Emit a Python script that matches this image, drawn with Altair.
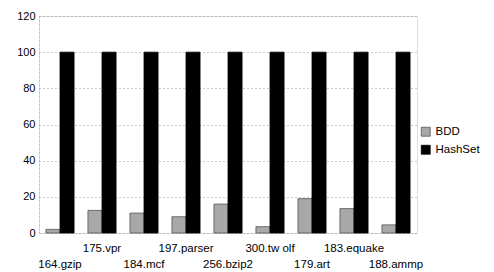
import altair as alt
import pandas as pd

benchmarks = ["164.gzip", "175.vpr", "184.mcf", "197.parser", "256.bzip2",
              "300.tw olf", "179.art", "183.equake", "188.ammp"]
bdd = [2, 12.5, 11, 9, 16, 3.5, 19, 13.5, 4.5]
hashset = [100, 100, 100, 100, 100, 100, 100, 100, 100]
series = ["BDD", "HashSet"]

rows = []
for b, v1, v2 in zip(benchmarks, bdd, hashset):
    rows.append({"bench": b, "series": "BDD", "value": v1})
    rows.append({"bench": b, "series": "HashSet", "value": v2})
df = pd.DataFrame(rows)
labels = pd.DataFrame({"bench": benchmarks, "row": [i % 2 for i in range(len(benchmarks))]})

W, H = 378, 217
FONT = "Liberation Sans"

xscale = alt.Scale(domain=benchmarks, paddingInner=0.33, paddingOuter=0.165)

bars = alt.Chart(df).mark_bar(strokeWidth=0.8).encode(
    x=alt.X("bench:N", sort=benchmarks, scale=xscale, axis=None),
    xOffset=alt.XOffset("series:N", sort=series),
    y=alt.Y("value:Q", scale=alt.Scale(domain=[0, 120]),
            axis=alt.Axis(values=[0, 20, 40, 60, 80, 100, 120], title=None,
                          grid=True, gridColor="#999", gridDash=[1, 3],
                          domain=True, domainColor="#aaa", domainDash=[1, 3],
                          ticks=False, labelPadding=4, labelFontSize=11,
                          labelFont=FONT, labelColor="#000")),
    fill=alt.Fill("series:N", sort=series,
                  scale=alt.Scale(domain=series, range=["#a8a8a8", "#000000"]),
                  legend=alt.Legend(title=None, orient="none", legendX=381, legendY=110,
                                    symbolType="square", symbolSize=80,
                                    labelFont=FONT, labelFontSize=11.5, labelColor="#000",
                                    labelOffset=4, rowPadding=5, symbolStrokeWidth=0.8)),
    stroke=alt.Stroke("series:N", sort=series,
                      scale=alt.Scale(domain=series, range=["#555555", "#000000"]),
                      legend=None),
)

upper = alt.Chart(labels).transform_filter("datum.row == 1").mark_text(
    font=FONT, fontSize=11.5, baseline="middle", color="#000").encode(
    x=alt.X("bench:N", sort=benchmarks, scale=xscale, axis=None),
    y=alt.value(H + 16),
    text="bench:N",
)
lower = alt.Chart(labels).transform_filter("datum.row == 0").mark_text(
    font=FONT, fontSize=11.5, baseline="middle", color="#000").encode(
    x=alt.X("bench:N", sort=benchmarks, scale=xscale, axis=None),
    y=alt.value(H + 32),
    text="bench:N",
)

chart = alt.layer(bars, upper, lower).properties(
    width=W, height=H,
    autosize=alt.AutoSizeParams(type="none"),
    padding={"left": 31, "top": 8, "right": 69, "bottom": 40},
).configure_view(stroke=None).configure(background="white")

chart.save("out.html", embed_options={"renderer": "svg", "actions": False})
